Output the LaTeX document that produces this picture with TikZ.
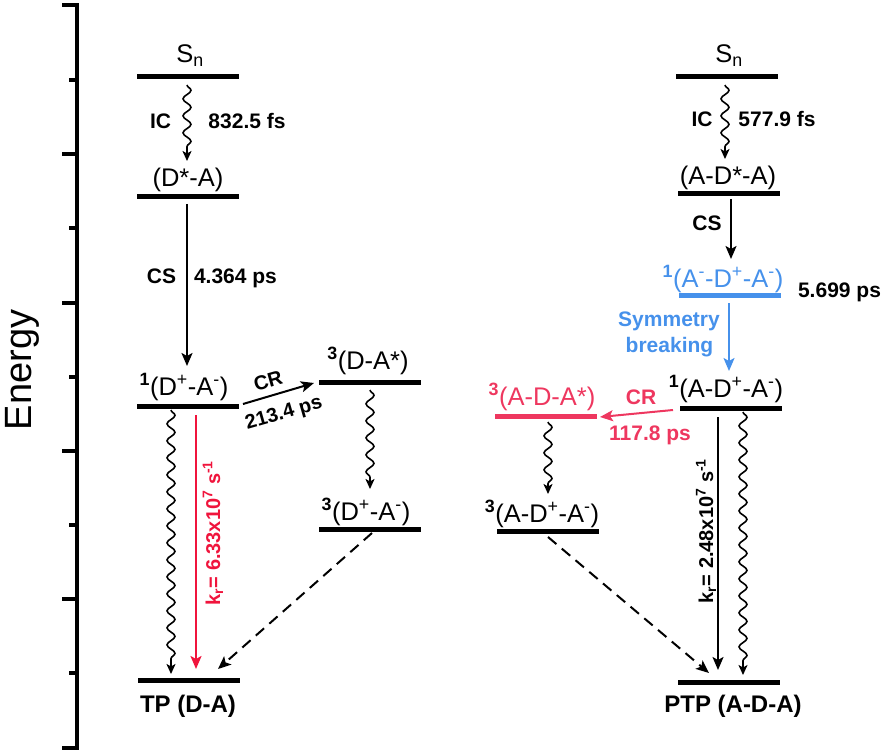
\documentclass[tikz,border=0pt]{standalone}
\usepackage{fontspec}
\setmainfont{Liberation Sans}
\usetikzlibrary{arrows.meta,decorations.pathmorphing}
\definecolor{kred}{RGB}{240,20,60}
\definecolor{pred}{RGB}{238,55,95}
\definecolor{sblue}{RGB}{70,145,235}
\tikzset{
  lvl/.style={fill=#1, draw=none, minimum width=102pt, minimum height=5pt, inner sep=0pt, outer sep=0pt},
  lvl/.default=black,
  lbl/.style={anchor=base, inner sep=0pt, font=\fontsize{25.5}{30}\selectfont},
  blbl/.style={anchor=base, inner sep=0pt, font=\fontsize{21}{25}\selectfont\bfseries},
  rlbl/.style={anchor=center, inner sep=0pt, font=\fontsize{20}{24}\selectfont\bfseries},
  arr/.style={line width=2pt, -{Stealth[length=13pt,width=11pt,inset=3pt]}},
  wavy/.style={line width=1.6pt, decorate, decoration={snake, amplitude=4pt, segment length=17pt, post length=9pt},
               -{Stealth[length=10pt,width=9pt,inset=2.5pt]}},
  dsh/.style={line width=2pt, dash pattern=on 11pt off 7pt, -{Stealth[length=13pt,width=11pt,inset=3pt]}},
  axisline/.style={line width=3.5pt},
}
\begin{document}
\begin{tikzpicture}[x=1pt,y=-1pt]
\useasboundingbox (0,0) rectangle (886,754);
% axis
\draw[axisline, line join=miter] (62,5) -- (77,5) -- (77,748) -- (62,748);
\foreach \yy in {154,303,451,599} \draw[axisline] (62,\yy) -- (77,\yy);
\foreach \yy in {80,228,377,525,673} \draw[axisline] (69,\yy) -- (77,\yy);
\node[rotate=90, inner sep=0pt, font=\fontsize{38}{44}\selectfont] (energy) at (22,370) {Energy};

% ---------- left levels
\node[lvl] (LSn) at (188,77) {};
\node[lvl] (LDA) at (188,197) {};
\node[lvl] (LCT) at (188,406) {};
\node[lvl] (LTP) at (188.5,680) {};
\node[lvl] (MT1) at (370,382) {};
\node[lvl] (MT2) at (370,529) {};

\node[lbl] (tLSn) at (190,63) {S\textsubscript{n}};
\node[lbl] (tLDA) at (188,187) {(D*-A)};
\node[lbl] (tLCT) at (184,395) {\textsuperscript{\textbf{1}}(D\textsuperscript{+}-A\textsuperscript{-})};
\node[lbl, font=\fontsize{24}{28}\selectfont\bfseries] (tLTP) at (188,712) {TP (D-A)};
\node[lbl] (tMT1) at (368,369) {\textsuperscript{\textbf{3}}(D-A*)};
\node[lbl] (tMT2) at (366,520) {\textsuperscript{\textbf{3}}(D\textsuperscript{+}-A\textsuperscript{-})};

\node[blbl] (tIC1) at (160.5,129) {IC};
\node[blbl] (tIC1t) at (247,129) {832.5 fs};
\node[blbl] (tCS1) at (161.5,283) {CS};
\node[blbl] (tCS1t) at (235.5,283) {4.364 ps};
\node[rlbl, rotate=16] (tCR1) at (268,381) {CR};
\node[rlbl, rotate=16] (tCR1t) at (284,414) {213.4 ps};
\node[rlbl, rotate=90, text=kred] (tk1) at (213,533) {k\textsubscript{r}= 6.33x10\textsuperscript{7} s\textsuperscript{-1}};

\coordinate (ic1s) at (187,85);  \coordinate (ic1e) at (187,161);
\coordinate (cs1s) at (187,204); \coordinate (cs1e) at (187,366);
\coordinate (w1s) at (171,410);  \coordinate (w1e) at (171,674);
\coordinate (r1s) at (196,415);  \coordinate (r1e) at (196,669);
\coordinate (cr1s) at (243,404); \coordinate (cr1e) at (314,383);
\coordinate (w2s) at (370,390);  \coordinate (w2e) at (370,489);
\coordinate (d1s) at (372,533);  \coordinate (d1e) at (218,669);

\draw[wavy] (ic1s) -- (ic1e);
\draw[arr] (cs1s) -- (cs1e);
\draw[wavy] (w1s) -- (w1e);
\draw[arr, kred] (r1s) -- (r1e);
\draw[arr] (cr1s) -- (cr1e);
\draw[wavy] (w2s) -- (w2e);
\draw[dsh] (d1s) -- (d1e);

% ---------- right levels
\node[lvl] (RSn) at (726.5,77) {};
\node[lvl] (RDA) at (729,194) {};
\node[lvl=sblue] (RCS) at (729.5,295) {};
\node[lvl] (RCT) at (731,408) {};
\node[lvl] (RPTP) at (729,682) {};
\node[lvl=pred] (QT1) at (546,416) {};
\node[lvl] (QT2) at (547.5,531) {};

\node[lbl] (tRSn) at (729,63) {S\textsubscript{n}};
\node[lbl] (tRDA) at (728,185) {(A-D*-A)};
\node[lbl, text=sblue] (tRCS) at (723,287) {\textsuperscript{\textbf{1}}(A\textsuperscript{-}-D\textsuperscript{+}-A\textsuperscript{-})};
\node[lbl] (tRCT) at (726,397) {\textsuperscript{\textbf{1}}(A-D\textsuperscript{+}-A\textsuperscript{-})};
\node[lbl, font=\fontsize{24}{28}\selectfont\bfseries] (tRPTP) at (733,712) {PTP (A-D-A)};
\node[lbl, text=pred] (tQT1) at (542,405) {\textsuperscript{\textbf{3}}(A-D-A*)};
\node[lbl] (tQT2) at (542,522) {\textsuperscript{\textbf{3}}(A-D\textsuperscript{+}-A\textsuperscript{-})};

\node[blbl] (tIC2) at (702,127) {IC};
\node[blbl] (tIC2t) at (777,127) {577.9 fs};
\node[blbl] (tCS2) at (707,230) {CS};
\node[blbl] (tRCSt) at (839.5,297) {5.699 ps};
\node[blbl, text=sblue] (tSym) at (669,326) {Symmetry};
\node[blbl, text=sblue] (tBrk) at (669.5,352) {breaking};
\node[blbl, text=pred] (tCR2) at (641,404) {CR};
\node[blbl, text=pred] (tCR2t) at (650,440) {117.8 ps};
\node[rlbl, rotate=90] (tk2) at (706,531) {k\textsubscript{r}= 2.48x10\textsuperscript{7} s\textsuperscript{-1}};

\coordinate (ic2s) at (725,85);  \coordinate (ic2e) at (725,159);
\coordinate (cs2s) at (731,199); \coordinate (cs2e) at (731,259);
\coordinate (sbs) at (729,303);  \coordinate (sbe) at (729,371);
\coordinate (cr2s) at (673,410); \coordinate (cr2e) at (600,417);
\coordinate (w3s) at (548,422);  \coordinate (w3e) at (548,494);
\coordinate (d2s) at (548,537);  \coordinate (d2e) at (709,673);
\coordinate (k2s) at (718,417);  \coordinate (k2e) at (718,670);
\coordinate (w4s) at (743,412);  \coordinate (w4e) at (743,675);

\draw[wavy] (ic2s) -- (ic2e);
\draw[arr] (cs2s) -- (cs2e);
\draw[arr, sblue] (sbs) -- (sbe);
\draw[arr, pred] (cr2s) -- (cr2e);
\draw[wavy] (w3s) -- (w3e);
\draw[dsh] (d2s) -- (d2e);
\draw[arr] (k2s) -- (k2e);
\draw[wavy] (w4s) -- (w4e);
\end{tikzpicture}
\end{document}
